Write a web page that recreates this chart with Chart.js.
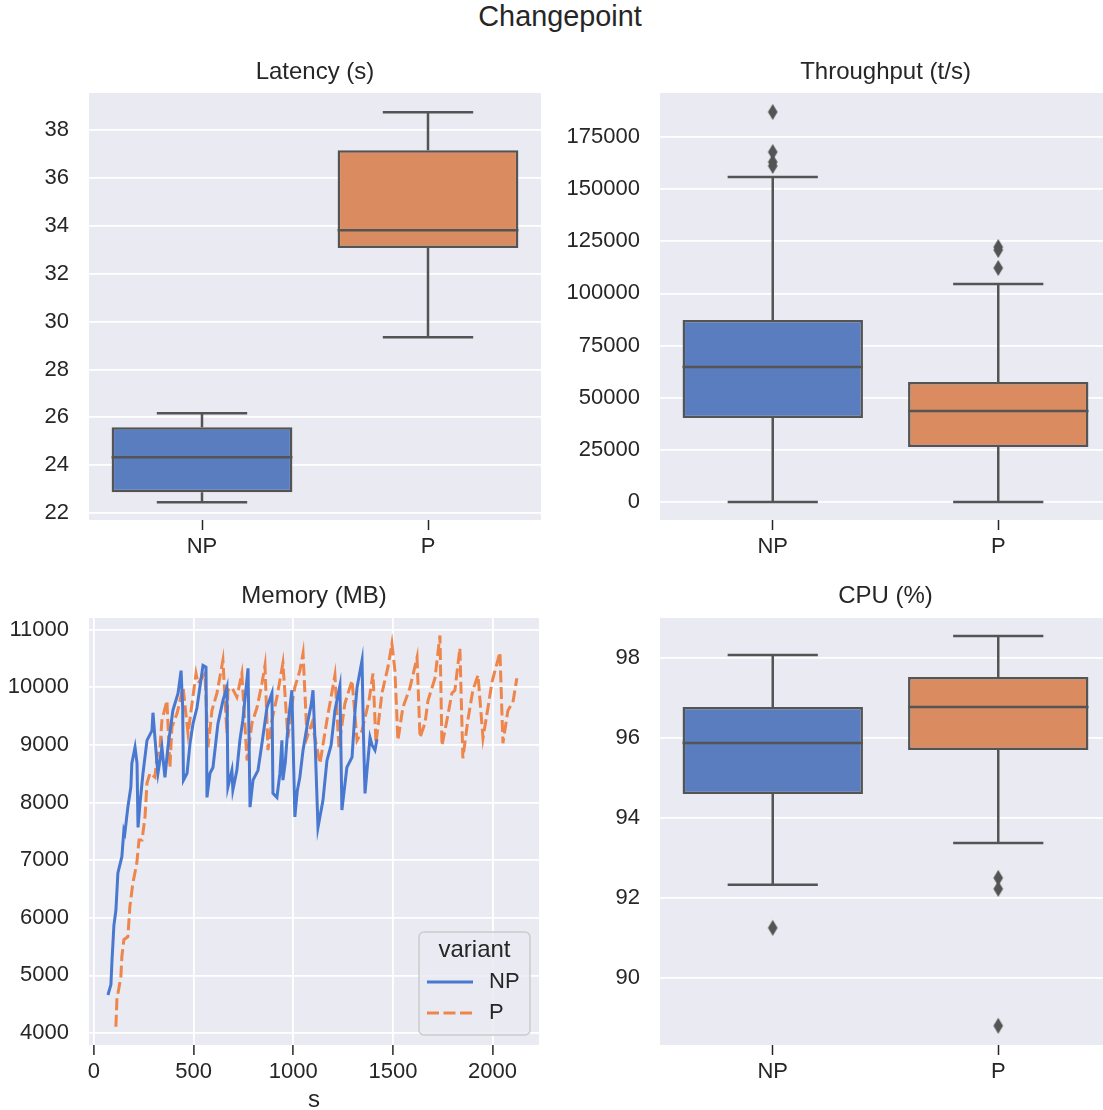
<!DOCTYPE html>
<html>
<head>
<meta charset="utf-8">
<script src="https://cdn.jsdelivr.net/npm/chart.js@4.4.1/dist/chart.umd.min.js"></script>
<style>
  html, body { margin: 0; padding: 0; background: #fff; overflow: hidden; }
  #page { position: relative; width: 1103px; height: 1110px; overflow: hidden; }
  canvas { position: absolute; }
  #suptitle {
    position: absolute; left: 0; top: 0; width: 1120px; line-height: 36px;
    text-align: center; font: 28.8px "Liberation Sans", Arial, sans-serif; color: #262626;
  }
</style>
</head>
<body>
<div id="page">
  <div id="suptitle">Changepoint</div>
  <canvas id="latency" width="560" height="570" style="left:0;top:0"></canvas>
  <canvas id="throughput" width="560" height="570" style="left:560px;top:0"></canvas>
  <canvas id="memory" width="560" height="580" style="left:0;top:540px"></canvas>
  <canvas id="cpu" width="560" height="580" style="left:560px;top:540px"></canvas>
</div>
<script>
// ---- data ----
var categories = ['NP', 'P'];

// box stats: [lower whisker, q1, median, q3, upper whisker]
var latencyNP = [22.45, 22.87, 24.33, 25.59, 26.17];
var latencyP = [29.35, 33.07, 33.82, 37.16, 38.75];
var latencyOutNP = [];
var latencyOutP = [];

var throughputNP = [0, 40270, 64730, 87260, 155800];
var throughputP = [0, 26370, 43630, 57530, 104520];
var throughputOutNP = [187000, 167800, 163000, 161100];
var throughputOutP = [122260, 120800, 112200];

var cpuNP = [92.33, 94.6, 95.875, 96.775, 98.075];
var cpuP = [93.375, 95.7, 96.775, 97.525, 98.55];
var cpuOutNP = [91.25];
var cpuOutP = [92.5, 92.225, 88.8];

var npTime = [70, 85, 90, 100, 110, 120, 140, 150, 155, 170, 185, 190, 206, 216, 221, 231, 246, 266, 291, 296,
  316, 321, 341, 356, 371, 396, 422, 437, 445, 449, 467, 482, 497, 517, 547, 562, 567, 582, 597, 622,
  647, 667, 672, 692, 697, 717, 732, 747, 773, 783, 798, 823, 843, 868, 893, 898, 918, 933, 943, 948,
  960, 975, 993, 1008, 1020, 1033, 1049, 1074, 1090, 1099, 1110, 1124, 1149, 1169, 1190, 1209, 1234, 1244, 1269, 1295,
  1310, 1320, 1345, 1352, 1360, 1370, 1385, 1395, 1410, 1420];
var npMemory = [4660, 4840, 5230, 5870, 6130, 6780, 7060, 7520, 7470, 7920, 8270, 8680, 8960, 8680, 7570, 7990, 8510, 9080, 9250, 9560,
  8680, 8510, 8960, 8440, 8960, 9600, 9900, 10290, 9650, 8390, 8510, 9030, 9370, 9650, 10380, 10350, 8090, 8510, 8610, 9370,
  9770, 10000, 8270, 8560, 8220, 8560, 9080, 9430, 10330, 7920, 8390, 8560, 9030, 9650, 9900, 8160, 8090, 8510, 9080, 8390,
  8700, 9400, 9950, 7750, 8200, 8440, 8910, 9430, 9700, 9950, 9000, 7570, 8040, 8730, 9000, 9600, 10030, 7870, 8610, 8790,
  9600, 10000, 10470, 9200, 8160, 8560, 9130, 9000, 8910, 9100];

var pTime = [110, 115, 135, 140, 150, 170, 180, 195, 215, 226, 241, 256, 266, 281, 306, 316, 331, 341, 366, 381,
  391, 417, 447, 472, 492, 512, 522, 557, 572, 592, 617, 647, 667, 672, 692, 717, 742, 768, 793, 818,
  843, 858, 873, 893, 918, 948, 973, 999, 1008, 1033, 1049, 1069, 1094, 1134, 1169, 1209, 1229, 1259, 1295, 1320,
  1345, 1380, 1400, 1415, 1445, 1475, 1495, 1510, 1525, 1550, 1586, 1621, 1636, 1661, 1676, 1711, 1736, 1746, 1771, 1796,
  1811, 1836, 1851, 1876, 1901, 1927, 1952, 1977, 1997, 2037, 2052, 2077, 2102, 2122];
var pMemory = [4110, 4580, 4980, 5330, 5620, 5670, 6190, 6600, 6950, 7350, 7350, 7750, 8340, 8510, 8440, 8790, 8960, 9430, 9770, 8610,
  9310, 9550, 10000, 9200, 9720, 10240, 10070, 10240, 8960, 9600, 9900, 10470, 9200, 9950, 10000, 9830, 10240, 8730, 9380, 9650,
  10070, 10380, 8910, 9430, 9830, 10420, 9130, 9830, 10000, 10290, 10590, 9130, 9380, 8680, 9430, 10210, 8960, 9720, 10120, 9080,
  9250, 9770, 10240, 9030, 9900, 10350, 10760, 10290, 9080, 9650, 10000, 10520, 9130, 9380, 9770, 10160, 10900, 8990, 9430, 9900,
  9950, 10680, 8770, 9430, 9950, 10210, 9120, 9650, 10090, 10610, 9030, 9600, 9740, 10160];

var latencyTicks = [22, 24, 26, 28, 30, 32, 34, 36, 38];
var throughputTicks = [0, 25000, 50000, 75000, 100000, 125000, 150000, 175000];
var cpuTicks = [90, 92, 94, 96, 98];
var memoryXTicks = [0, 500, 1000, 1500, 2000];
var memoryYTicks = [4000, 5000, 6000, 7000, 8000, 9000, 10000, 11000];

// ---- style ----
Chart.defaults.font.family = '"Liberation Sans", Arial, sans-serif';
Chart.defaults.color = '#262626';
var textColor = '#262626';
var edgeColor = '#545454';
var boxColors = ['#597dbf', '#da8b5f'];
var lineColors = ['#4878d0', '#ee854a'];

var diamond = document.createElement('canvas');
diamond.width = 12;
diamond.height = 18;
(function () {
  var c = diamond.getContext('2d');
  c.fillStyle = edgeColor;
  c.beginPath();
  c.moveTo(6, 1); c.lineTo(10.8, 9); c.lineTo(6, 17); c.lineTo(1.2, 9);
  c.closePath();
  c.fill();
})();

var bgPlugin = {
  id: 'axesBg',
  beforeDraw: function (chart) {
    var a = chart.chartArea, ctx = chart.ctx;
    ctx.save();
    ctx.fillStyle = '#eaeaf2';
    ctx.fillRect(a.left, a.top, a.right - a.left, a.bottom - a.top);
    ctx.restore();
  }
};

var whiskerPlugin = {
  id: 'whiskers',
  afterDatasetsDraw: function (chart, args, opts) {
    if (!opts.stats) return;
    var ctx = chart.ctx, y = chart.scales.y;
    var bars = chart.getDatasetMeta(0).data;
    ctx.save();
    ctx.strokeStyle = edgeColor;
    ctx.lineWidth = 2.5;
    ctx.lineCap = 'butt';
    opts.stats.forEach(function (s, i) {
      var bar = bars[i];
      var cx = bar.x, half = bar.width / 2, cap = bar.width / 4;
      var yLo = y.getPixelForValue(s[0]), yQ1 = y.getPixelForValue(s[1]);
      var yMed = y.getPixelForValue(s[2]), yQ3 = y.getPixelForValue(s[3]);
      var yHi = y.getPixelForValue(s[4]);
      ctx.beginPath();
      ctx.moveTo(cx, yQ1); ctx.lineTo(cx, yLo);
      ctx.moveTo(cx - cap, yLo); ctx.lineTo(cx + cap, yLo);
      ctx.moveTo(cx, yQ3); ctx.lineTo(cx, yHi);
      ctx.moveTo(cx - cap, yHi); ctx.lineTo(cx + cap, yHi);
      ctx.moveTo(cx - half, yMed); ctx.lineTo(cx + half, yMed);
      ctx.stroke();
    });
    ctx.restore();
  }
};

function fixedTicks(list) {
  return function (scale) {
    scale.ticks = list.map(function (v) { return { value: v }; });
  };
}

function boxChart(id, title, stats, outNP, outP, yMin, yMax, ticks, pad, xHeight) {
  var outliers = outNP.map(function (v) { return { x: 'NP', y: v }; })
    .concat(outP.map(function (v) { return { x: 'P', y: v }; }));
  return new Chart(document.getElementById(id), {
    type: 'bar',
    data: {
      labels: categories,
      datasets: [
        {
          type: 'bar',
          data: stats.map(function (s) { return [s[1], s[3]]; }),
          backgroundColor: boxColors,
          borderColor: edgeColor,
          borderWidth: 2.5,
          borderSkipped: false,
          barPercentage: 0.8,
          categoryPercentage: 1,
          order: 2
        },
        {
          type: 'line',
          data: outliers,
          showLine: false,
          pointStyle: diamond,
          pointRadius: 8,
          order: 1
        }
      ]
    },
    options: {
      responsive: false,
      animation: false,
      events: [],
      layout: { padding: { top: pad.top, right: pad.right, left: 0, bottom: 0 } },
      plugins: {
        legend: { display: false },
        tooltip: { enabled: false },
        title: {
          display: true,
          fullSize: false,
          text: title,
          color: textColor,
          font: { size: 24, weight: 'normal' },
          padding: { top: 0, bottom: pad.titleBottom }
        },
        whiskers: { stats: stats }
      },
      scales: {
        x: {
          grid: { offset: false, drawOnChartArea: false, drawTicks: true, tickLength: 10, tickColor: textColor, tickWidth: 1.5 },
          border: { display: false },
          ticks: { font: { size: 22 }, color: textColor, padding: 4 },
          afterFit: function (s) { s.height = xHeight; }
        },
        y: {
          min: yMin,
          max: yMax,
          afterBuildTicks: fixedTicks(ticks),
          grid: { color: '#ffffff', lineWidth: 1.8, drawTicks: false },
          border: { display: false },
          ticks: { font: { size: 22 }, color: textColor, padding: 20, callback: function (v) { return String(v); } },
          afterFit: function (s) { s.width = pad.yWidth; }
        }
      }
    },
    plugins: [bgPlugin, whiskerPlugin]
  });
}

boxChart('latency', 'Latency (s)', [latencyNP, latencyP], latencyOutNP, latencyOutP,
  21.71, 39.55, latencyTicks, { top: 57.6, right: 19, titleBottom: 6.6, yWidth: 89 }, 50);
boxChart('throughput', 'Throughput (t/s)', [throughputNP, throughputP], throughputOutNP, throughputOutP,
  -8630, 196100, throughputTicks, { top: 57.6, right: 8, titleBottom: 6.6, yWidth: 100 }, 50);
boxChart('cpu', 'CPU (%)', [cpuNP, cpuP], cpuOutNP, cpuOutP,
  88.32, 99.0, cpuTicks, { top: 41.6, right: 8, titleBottom: 7.6, yWidth: 100 }, 75);

var legendPlugin = {
  id: 'variantLegend',
  afterDraw: function (chart) {
    var a = chart.chartArea, ctx = chart.ctx;
    var right = a.right - 9, bottom = a.bottom - 10, w = 111, h = 103;
    var left = right - w, top = bottom - h;
    ctx.save();
    ctx.fillStyle = 'rgba(234,234,242,0.8)';
    ctx.strokeStyle = '#cccccc';
    ctx.lineWidth = 1.5;
    ctx.beginPath();
    ctx.roundRect(left, top, w, h, 5);
    ctx.fill();
    ctx.stroke();
    ctx.fillStyle = textColor;
    ctx.textBaseline = 'middle';
    ctx.textAlign = 'center';
    ctx.font = '24px "Liberation Sans", Arial, sans-serif';
    ctx.fillText('variant', left + w / 2, top + 18);
    ctx.textAlign = 'left';
    ctx.font = '22px "Liberation Sans", Arial, sans-serif';
    var names = chart.data.datasets.map(function (d) { return d.label; });
    names.forEach(function (name, i) {
      var ly = top + 50 + i * 31;
      ctx.strokeStyle = lineColors[i];
      ctx.lineWidth = 3;
      ctx.setLineDash(i === 1 ? [12, 4.5] : []);
      ctx.beginPath();
      ctx.moveTo(left + 8, ly);
      ctx.lineTo(left + 54, ly);
      ctx.stroke();
      ctx.setLineDash([]);
      ctx.fillText(name, left + 70, ly);
    });
    ctx.restore();
  }
};

function pairs(xs, ys) {
  return xs.map(function (x, i) { return { x: x, y: ys[i] }; });
}

new Chart(document.getElementById('memory'), {
  type: 'line',
  data: {
    datasets: [
      { label: 'NP', data: pairs(npTime, npMemory), borderColor: lineColors[0], borderWidth: 3, pointRadius: 0, tension: 0 },
      { label: 'P', data: pairs(pTime, pMemory), borderColor: lineColors[1], borderWidth: 3, borderDash: [12, 4.5], pointRadius: 0, tension: 0 }
    ]
  },
  options: {
    responsive: false,
    animation: false,
    events: [],
    layout: { padding: { top: 41.6, right: 21, left: 0, bottom: 0 } },
    plugins: {
      legend: { display: false },
      tooltip: { enabled: false },
      title: {
        display: true,
        fullSize: false,
        text: 'Memory (MB)',
        color: textColor,
        font: { size: 24, weight: 'normal' },
        padding: { top: 0, bottom: 7.6 }
      }
    },
    scales: {
      x: {
        type: 'linear',
        min: -25,
        max: 2233,
        afterBuildTicks: fixedTicks(memoryXTicks),
        grid: { color: '#ffffff', lineWidth: 1.8, drawTicks: true, tickLength: 10, tickColor: textColor, tickWidth: 1.5 },
        border: { display: false },
        ticks: { font: { size: 22 }, color: textColor, padding: 4, callback: function (v) { return String(v); } },
        title: { display: true, text: 's', color: textColor, font: { size: 24 }, padding: { top: 0, bottom: 5.6 } },
        afterFit: function (s) { s.height = 75; }
      },
      y: {
        min: 3792,
        max: 11204,
        afterBuildTicks: fixedTicks(memoryYTicks),
        grid: { color: '#ffffff', lineWidth: 1.8, drawTicks: false },
        border: { display: false },
        ticks: { font: { size: 22 }, color: textColor, padding: 20, callback: function (v) { return String(v); } },
        afterFit: function (s) { s.width = 89; }
      }
    }
  },
  plugins: [bgPlugin, legendPlugin]
});
</script>
</body>
</html>
